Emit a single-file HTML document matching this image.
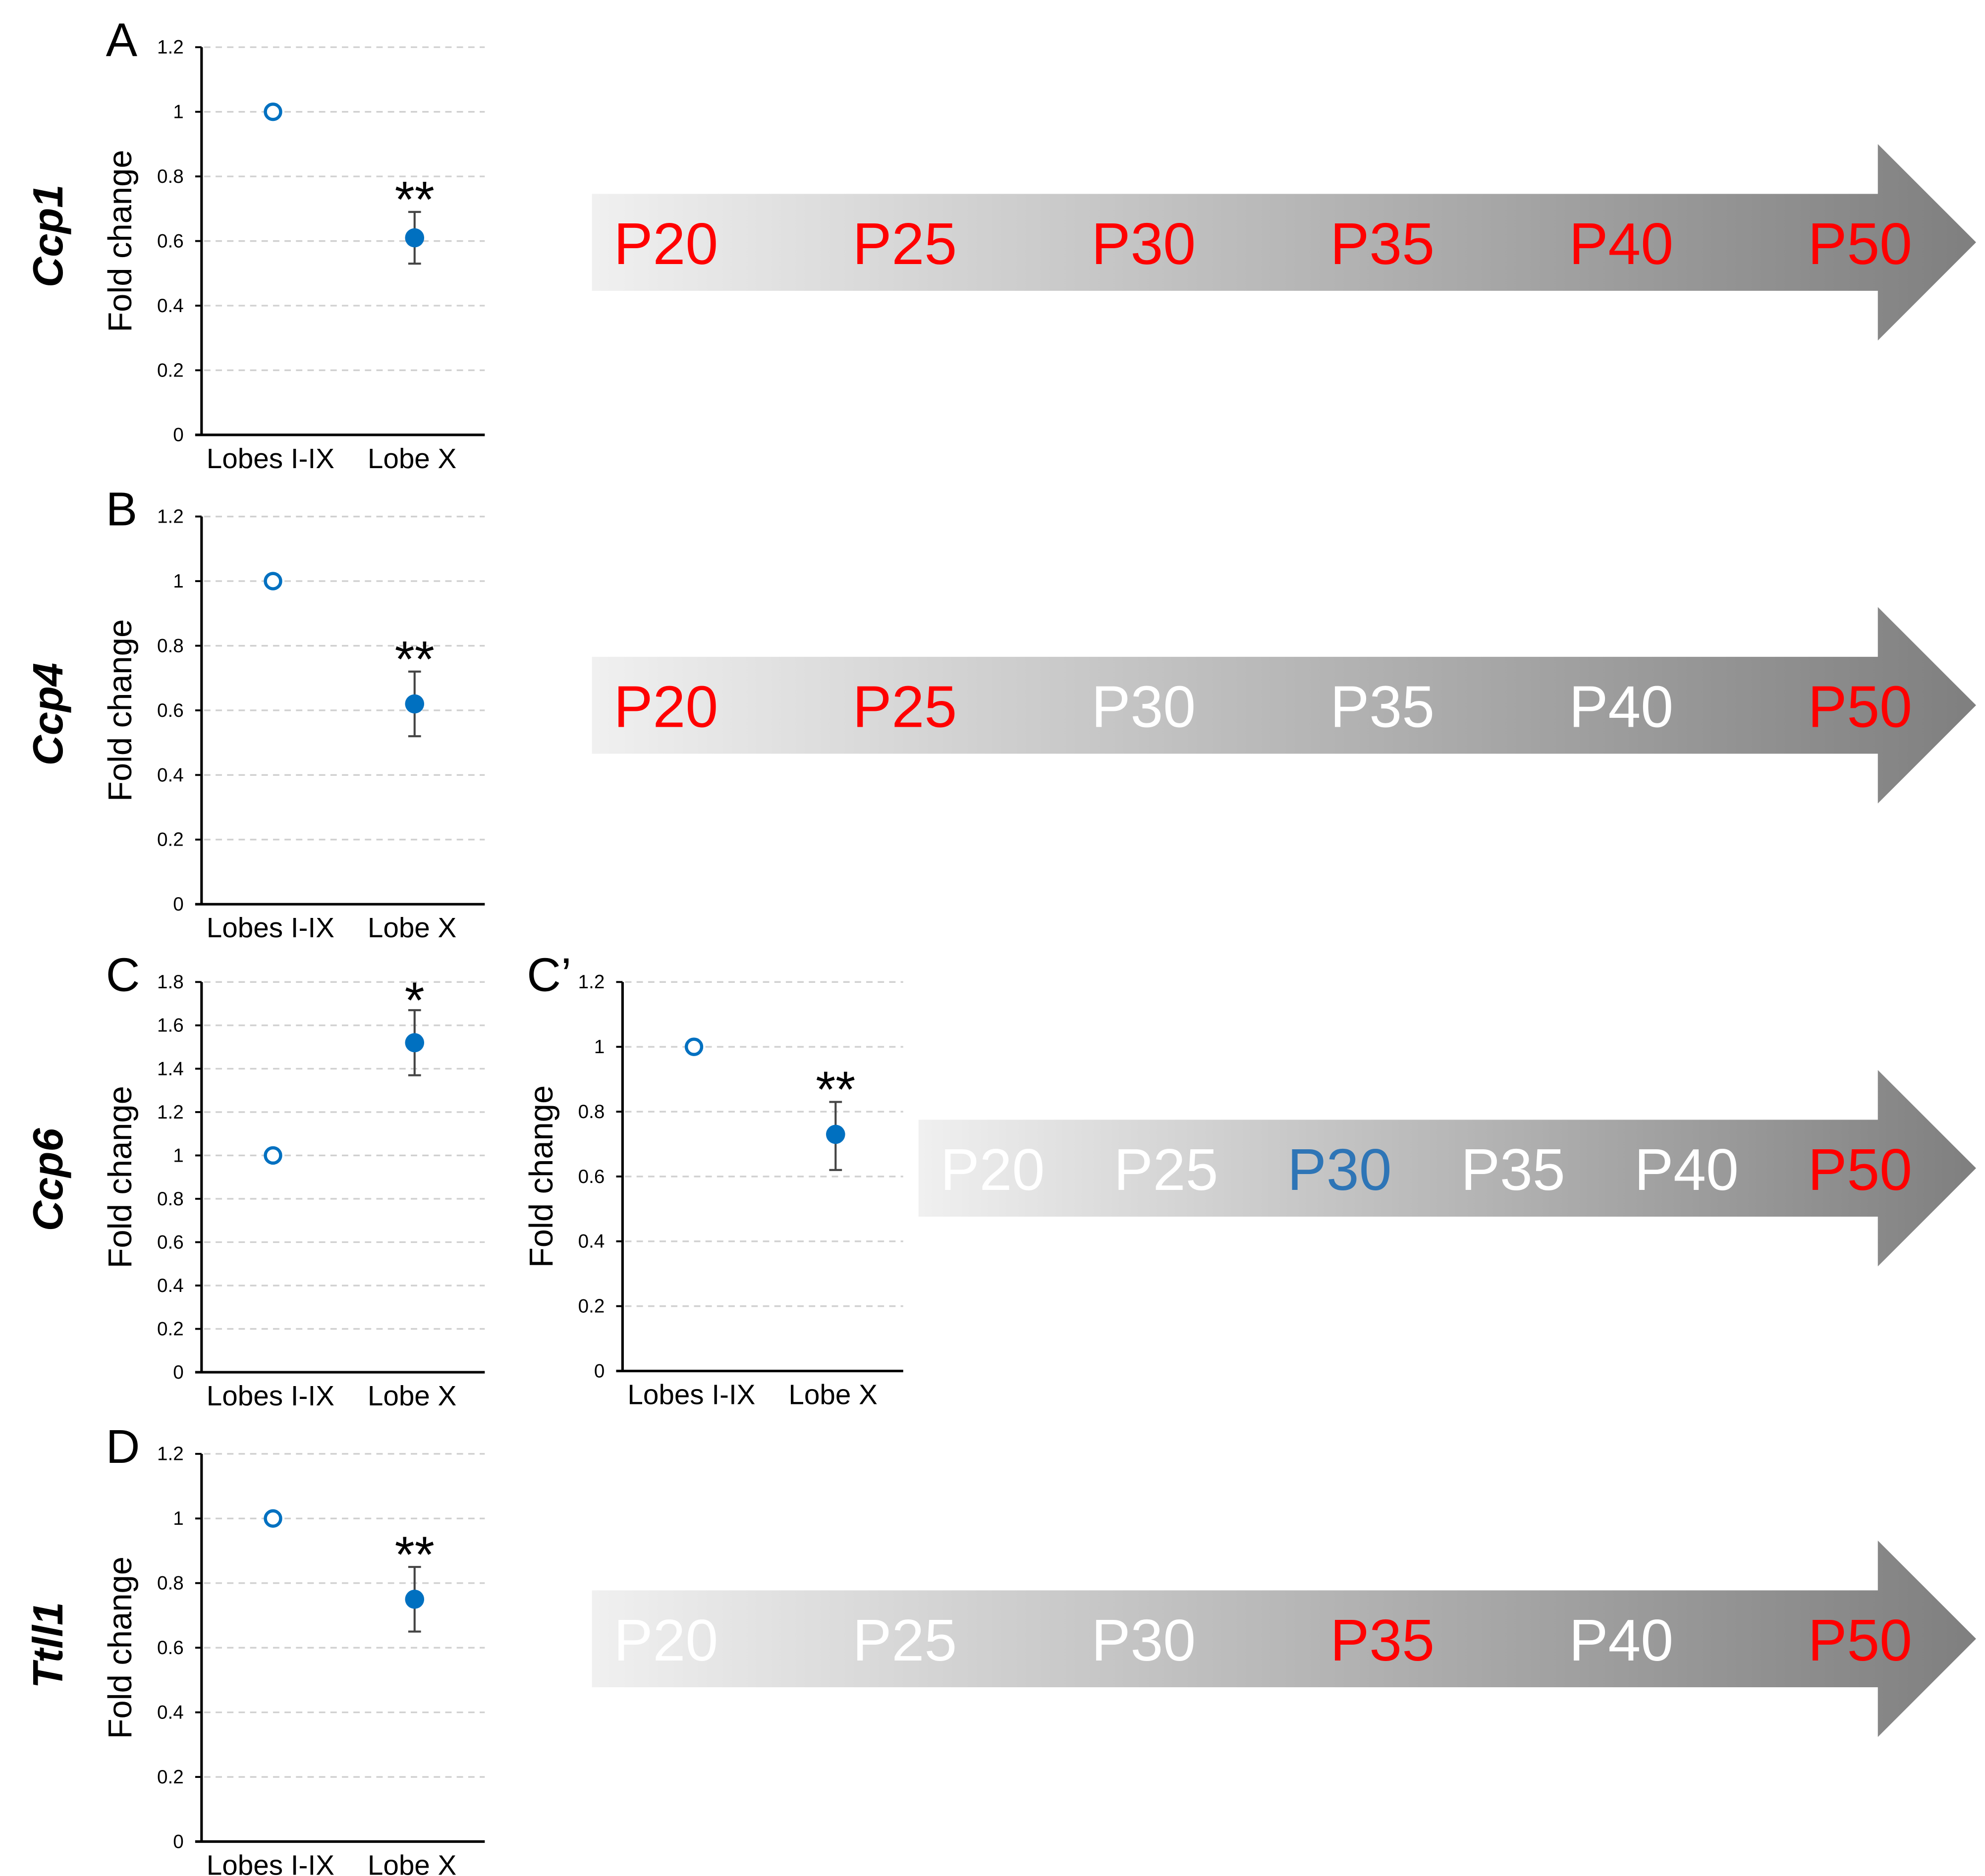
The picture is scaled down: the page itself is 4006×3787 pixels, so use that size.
<!DOCTYPE html>
<html><head><meta charset="utf-8"><style>
html,body{margin:0;padding:0;background:#fff;}
svg{display:block;font-family:"Liberation Sans",Arial,sans-serif;}
</style></head><body>
<svg id="fig" width="4006" height="3787" viewBox="0 0 1556 1471" preserveAspectRatio="none" xmlns="http://www.w3.org/2000/svg">
<defs>
<linearGradient id="g" x1="0" x2="1" y1="0" y2="0"><stop offset="0" stop-color="#f0f0f0"/><stop offset="1" stop-color="#7f7f7f"/></linearGradient>
</defs>
</svg>
<script>
const NS='http://www.w3.org/2000/svg';
const svg=document.getElementById('fig');
// data
const categories=['Lobes I-IX','Lobe X'];
const panelIds=['A','B','C','Cp','D'];
const panelLetters=['A','B','C','C\u2019','D'];
const genes=['Ccp1','Ccp4','Ccp6','','Ttll1'];
const yMaxes=[1.2,1.2,1.8,1.2,1.2];
const yStepsA=[0,0.2,0.4,0.6,0.8,1,1.2];
const yStepsC=[0,0.2,0.4,0.6,0.8,1,1.2,1.4,1.6,1.8];
const controlValues=[1,1,1,1,1];
const lobeXValues=[0.61,0.62,1.52,0.73,0.75];
const errLow=[0.53,0.52,1.37,0.62,0.65];
const errHigh=[0.69,0.72,1.67,0.83,0.85];
const stars=['**','**','*','**','**'];
const ages=['P20','P25','P30','P35','P40','P50'];
const ageColorsA=['#ff0000','#ff0000','#ff0000','#ff0000','#ff0000','#ff0000'];
const ageColorsB=['#ff0000','#ff0000','#ffffff','#ffffff','#ffffff','#ff0000'];
const ageColorsC=['#ffffff','#ffffff','#2e75b6','#ffffff','#ffffff','#ff0000'];
const ageColorsD=['#ffffff','#ffffff','#ffffff','#ff0000','#ffffff','#ff0000'];

// layout (display coords)
const layout=[
 {ax:158,right:380,top:37,bottom:341,gy:185},
 {ax:158,right:380,top:405,bottom:709,gy:560},
 {ax:158,right:380,top:770,bottom:1076,gy:925},
 {ax:488,right:708,top:770,bottom:1075,gy:null},
 {ax:158,right:380,top:1140,bottom:1444,gy:1290}
];
const arrows=[
 {x0:464,cy:190,colors:ageColorsA},
 {x0:464,cy:553,colors:ageColorsB},
 {x0:720,cy:916,colors:ageColorsC},
 {x0:464,cy:1285,colors:ageColorsD}
];
function el(tag,attrs,parent,text){const e=document.createElementNS(NS,tag);for(const k in attrs)e.setAttribute(k,attrs[k]);if(text!==undefined)e.textContent=text;(parent||svg).appendChild(e);return e;}

panelIds.forEach((pid,i)=>{
 const L=layout[i];
 const g=el('g',{});
 
 
 const y=v=>L.bottom-(v/yMaxes[i])*(L.bottom-L.top);
 const xs=[L.ax+56,L.ax+167];
 const ticks=yMaxes[i]>1.5?yStepsC:yStepsA;
 ticks.forEach(t=>{
  if(t>0){const gl=el('line',{x1:L.ax+2,x2:L.right,y1:y(t),y2:y(t),stroke:'#d0d0d0','stroke-width':1.3,'stroke-dasharray':'5,4'},g);
  }
  const tk=el('line',{x1:L.ax-5,x2:L.ax,y1:y(t),y2:y(t),stroke:'#000','stroke-width':1.5},g);
  
  const tl=el('text',{x:L.ax-14,y:y(t)+5,'font-size':15,'text-anchor':'end',fill:'#000'},g,String(t));
  
 });
 const ya=el('line',{x1:L.ax,x2:L.ax,y1:L.top,y2:L.bottom,stroke:'#000','stroke-width':2},g);
 
 const xa=el('line',{x1:L.ax-5,x2:L.right,y1:L.bottom,y2:L.bottom,stroke:'#000','stroke-width':2},g);
 
 categories.forEach((c,j)=>{
  const t=el('text',{x:xs[j]-2,y:L.bottom+26,'font-size':22,'text-anchor':'middle'},g,c);
  
 });
 const yt=el('text',{x:0,y:0,'font-size':26,'text-anchor':'middle',transform:`translate(${L.ax-55},${(L.top+L.bottom)/2}) rotate(-90)`},g,'Fold change');
 
 const pl=el('text',{x:L.ax-75,y:L.top+7,'font-size':37},g,panelLetters[i]);
 
 if(genes[i]){const gn=el('text',{x:0,y:0,'font-size':33,'font-weight':'bold','font-style':'italic','text-anchor':'middle',transform:`translate(49,${L.gy}) rotate(-90)`},g,genes[i]);
  }
 const eb=el('path',{d:`M${xs[1]},${y(errLow[i])}V${y(errHigh[i])}M${xs[1]-5},${y(errLow[i])}H${xs[1]+5}M${xs[1]-5},${y(errHigh[i])}H${xs[1]+5}`,stroke:'#444','stroke-width':1.6,fill:'none'},g);
 
 const p1=el('circle',{cx:xs[0],cy:y(controlValues[i]),r:6,fill:'#fff',stroke:'#0070c0','stroke-width':2.5},g);
 
 const p2=el('circle',{cx:xs[1],cy:y(lobeXValues[i]),r:7.5,fill:'#0070c0'},g);
 
 const st=el('text',{x:xs[1],y:y(errHigh[i])+(stars[i]=='*'?6:4),'font-size':40,'text-anchor':'middle'},g,stars[i]);
 
});

arrows.forEach((A,i)=>{
 const g=el('g',{});
 
 
 const hx=1472,tip=1549,h=38,H=77;
 const ar=el('path',{d:`M${A.x0},${A.cy-h}H${hx}V${A.cy-H}L${tip},${A.cy}L${hx},${A.cy+H}V${A.cy+h}H${A.x0}Z`,fill:'url(#g)'},g);
 
 const first=A.x0+58,last=1458,step=(last-first)/(ages.length-1);
 ages.forEach((a,j)=>{
  const t=el('text',{x:first+j*step,y:A.cy+17,'font-size':46,'text-anchor':'middle',fill:A.colors[j]},g,a);
  
 });
});
</script>
</body></html>
